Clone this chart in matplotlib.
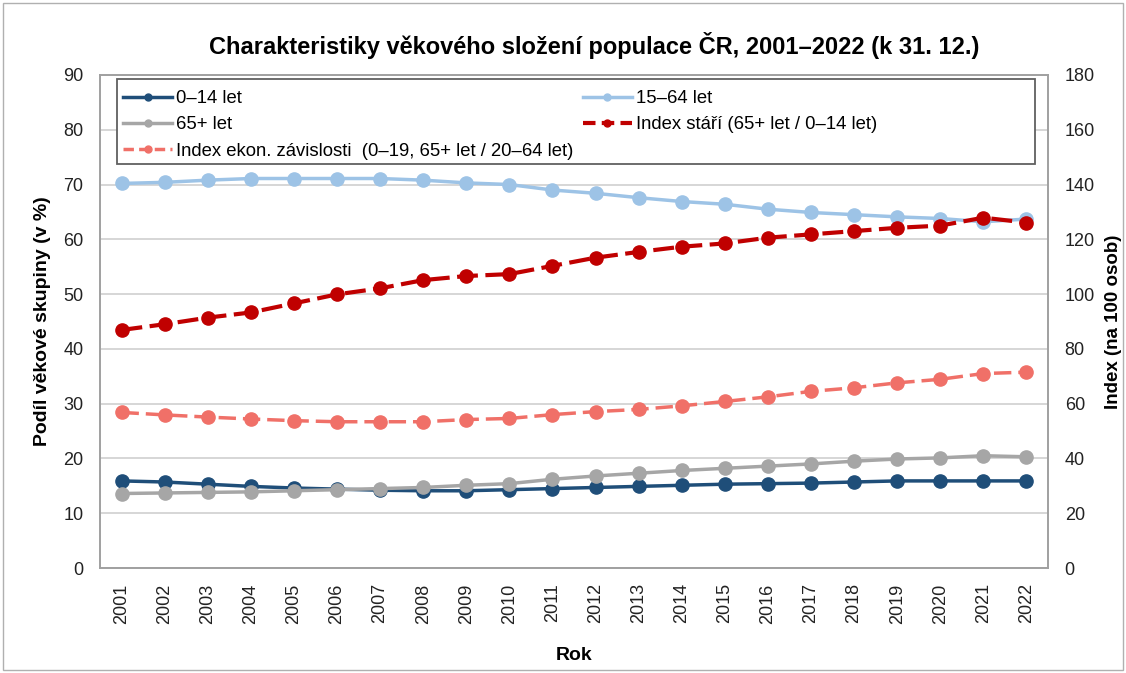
import matplotlib
matplotlib.use("Agg")
import matplotlib.pyplot as plt
from matplotlib.lines import Line2D
from matplotlib.patches import Rectangle

plt.rcParams['font.family'] = ['Liberation Sans', 'DejaVu Sans']

years = list(range(2001, 2023))
age_0_14 = [15.9, 15.7, 15.3, 14.9, 14.6, 14.4, 14.2, 14.1, 14.1, 14.3, 14.5, 14.7, 14.9, 15.1, 15.3, 15.4, 15.5, 15.7, 15.9, 15.9, 15.9, 15.9]
age_15_64 = [70.2, 70.4, 70.8, 71.1, 71.1, 71.1, 71.1, 70.8, 70.3, 70.0, 69.0, 68.4, 67.6, 66.9, 66.4, 65.5, 64.9, 64.5, 64.1, 63.8, 63.2, 63.7]
age_65 = [13.6, 13.7, 13.8, 13.9, 14.1, 14.3, 14.5, 14.7, 15.1, 15.4, 16.2, 16.8, 17.3, 17.8, 18.2, 18.6, 19.0, 19.5, 19.9, 20.1, 20.5, 20.3]
index_stari = [86.9, 89.0, 91.4, 93.3, 96.6, 99.9, 102.1, 105.1, 106.6, 107.3, 110.3, 113.3, 115.4, 117.3, 118.5, 120.6, 121.8, 123.0, 124.2, 125.0, 127.9, 126.1]
index_ekon = [56.8, 55.9, 55.1, 54.4, 53.8, 53.4, 53.4, 53.4, 54.2, 54.6, 56.0, 57.1, 57.9, 59.2, 60.8, 62.5, 64.5, 65.8, 67.6, 68.9, 71.0, 71.5]

labels = ['0–14 let', '15–64 let', '65+ let', 'Index stáří (65+ let / 0–14 let)',
          'Index ekon. závislosti  (0–19, 65+ let / 20–64 let)']
c_014 = '#1F4E79'
c_1564 = '#9DC3E6'
c_65 = '#A6A6A6'
c_stari = '#C00000'
c_ekon = '#F07068'

fig = plt.figure(figsize=(11.26, 6.73), dpi=100)
ax = fig.add_axes([0.0888, 0.156, 0.8419, 0.7326])
ax2 = ax.twinx()

ms = 9.5
ax.plot(years, age_15_64, color=c_1564, lw=2.5, marker='o', ms=ms, zorder=3)
ax.plot(years, age_0_14, color=c_014, lw=2.5, marker='o', ms=ms, zorder=3)
ax.plot(years, age_65, color=c_65, lw=2.5, marker='o', ms=ms, zorder=4)
ax2.plot(years, index_ekon, color=c_ekon, lw=2.5, marker='o', ms=ms, dashes=(5, 2))
ax2.plot(years, index_stari, color=c_stari, lw=3, marker='o', ms=ms, dashes=(5, 1.8))

ax.set_xlim(2000.5, 2022.5)
ax.set_ylim(0, 90)
ax2.set_ylim(0, 180)
ax.set_yticks(range(0, 91, 10))
ax2.set_yticks(range(0, 181, 20))
ax.set_xticks(years)
ax.set_xticklabels([str(y) for y in years], rotation=90)
ax.yaxis.grid(True, color='#D0D0D0', lw=1.2)
ax.set_axisbelow(True)
for a in (ax, ax2):
    a.tick_params(axis='both', length=0, labelsize=13, colors='#222222', pad=12)
    for s in ('left', 'right', 'bottom', 'top'):
        a.spines[s].set_color('#A0A0A0')
        a.spines[s].set_linewidth(1.2)
ax.tick_params(axis='x', pad=11)

ax.set_ylabel('Podíl věkové skupiny (v %)', fontsize=14, fontweight='bold', labelpad=9)
ax2.set_ylabel('Index (na 100 osob)', fontsize=13.5, fontweight='bold', labelpad=7)
ax.set_xlabel('Rok', fontsize=14, fontweight='bold', labelpad=17)
fig.text(0.528, 0.933, 'Charakteristiky věkového složení populace ČR, 2001–2022 (k 31. 12.)',
         fontsize=17, fontweight='bold', ha='center', va='center')

hms = 5
h_014 = Line2D([], [], color=c_014, lw=2.5, marker='o', ms=hms)
h_65 = Line2D([], [], color=c_65, lw=2.5, marker='o', ms=hms)
h_ekon = Line2D([], [], color=c_ekon, lw=2.5, marker='o', ms=hms, dashes=(3, 1.5))
h_1564 = Line2D([], [], color=c_1564, lw=2.5, marker='o', ms=hms)
h_stari = Line2D([], [], color=c_stari, lw=3, marker='o', ms=hms, dashes=(3, 1.5))

frame = Rectangle((0.0179, 0.8195), 0.9684, 0.1724, transform=ax2.transAxes,
                  facecolor='white', edgecolor='#606060', lw=1.3, zorder=4.5)
ax2.add_patch(frame)

common = dict(fontsize=13.3, frameon=False, handlelength=2.65, handletextpad=0.2,
              borderaxespad=0, borderpad=0, labelspacing=0.5, loc='upper left')
leg1 = ax2.legend([h_014, h_65, h_ekon], [labels[0], labels[2], labels[4]],
                  bbox_to_anchor=(0.0243, 0.969), **common)
leg1.set_zorder(6)
ax2.add_artist(leg1)
leg2 = ax2.legend([h_1564, h_stari], [labels[1], labels[3]],
                  bbox_to_anchor=(0.5095, 0.969), **common)
leg2.set_zorder(6)

fig.patches.append(Rectangle((0.003, 0.005), 0.994, 0.99, transform=fig.transFigure,
                             fill=False, edgecolor='#B0B0B0', lw=1))

fig.savefig('out.png', dpi=100)
